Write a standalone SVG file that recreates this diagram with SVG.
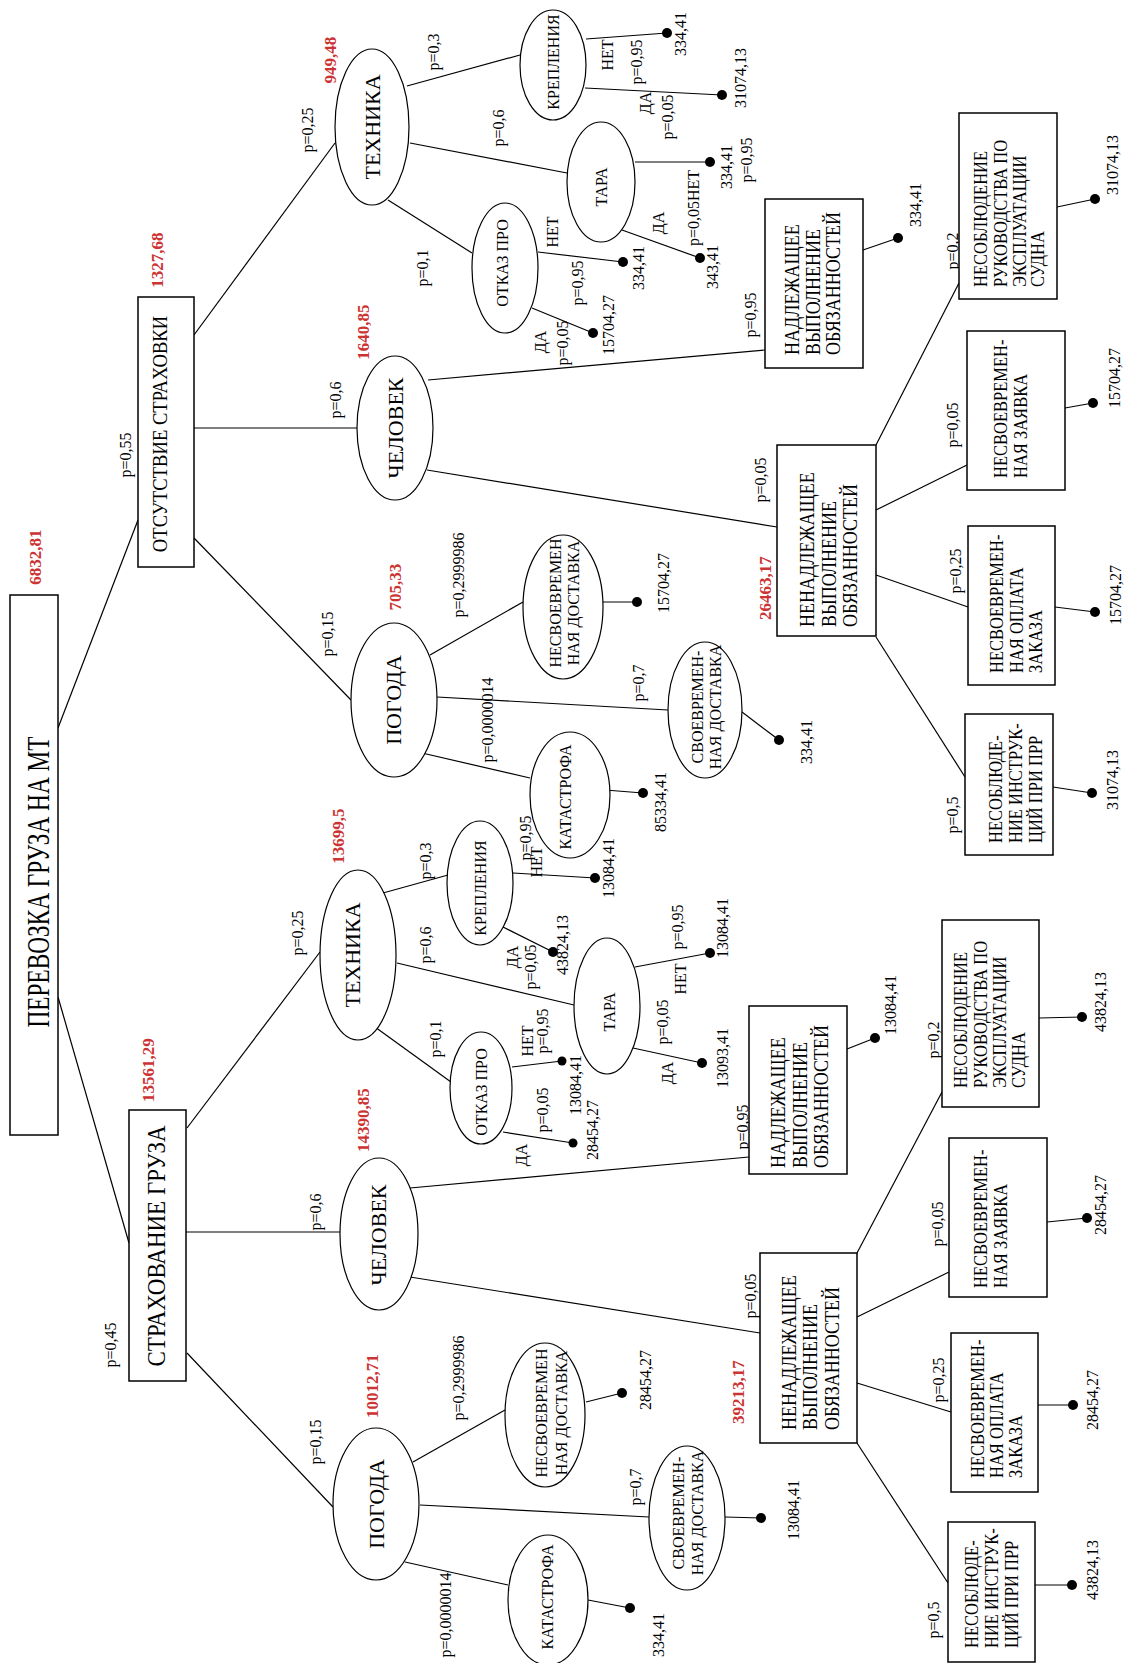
<svg xmlns="http://www.w3.org/2000/svg" width="1125" height="1663" viewBox="0 0 1125 1663">
<style>
.t{font-family:"Liberation Serif","Times New Roman",serif;font-size:16px;text-anchor:middle;dominant-baseline:central;fill:#000}
.r{fill:#cc3333;font-weight:bold;font-size:17px}
.big{font-size:22px}
.b{font-size:18px;text-anchor:start}
.b2{font-size:16.5px;text-anchor:start}
#connectors line{stroke:#000;stroke-width:1.2;fill:none}
rect{fill:#fff;stroke:#000;stroke-width:1.5}
ellipse{fill:#fff;stroke:#000;stroke-width:1.2}
.dot{fill:#000}
</style>
<rect x="0" y="0" width="1125" height="1663" style="fill:#fff;stroke:none"/>
<g id="connectors">
<line x1="58" y1="728" x2="138" y2="520"/>
<line x1="58" y1="997" x2="129" y2="1243"/>
<line x1="194" y1="335" x2="335" y2="143"/>
<line x1="194" y1="428" x2="357" y2="428"/>
<line x1="194" y1="538" x2="351" y2="700"/>
<line x1="407" y1="86" x2="520" y2="55"/>
<line x1="410" y1="143" x2="567" y2="173"/>
<line x1="388" y1="200" x2="472" y2="253"/>
<line x1="586" y1="39" x2="667" y2="33"/>
<line x1="585" y1="88" x2="722" y2="95"/>
<line x1="635" y1="162" x2="710" y2="162"/>
<line x1="622" y1="230" x2="700" y2="258"/>
<line x1="538" y1="252" x2="623" y2="262"/>
<line x1="532" y1="308" x2="593" y2="333"/>
<line x1="428" y1="380" x2="765" y2="350"/>
<line x1="427" y1="470" x2="777" y2="527"/>
<line x1="863" y1="250" x2="898" y2="238"/>
<line x1="876" y1="445" x2="959" y2="283"/>
<line x1="876" y1="510" x2="967" y2="465"/>
<line x1="876" y1="575" x2="968" y2="607"/>
<line x1="876" y1="637" x2="965" y2="777"/>
<line x1="1057" y1="207" x2="1095" y2="199"/>
<line x1="1065" y1="408" x2="1093" y2="403"/>
<line x1="1055" y1="607" x2="1095" y2="612"/>
<line x1="1053" y1="787" x2="1092" y2="793"/>
<line x1="430" y1="655" x2="523" y2="602"/>
<line x1="437" y1="697" x2="668" y2="710"/>
<line x1="422" y1="753" x2="530" y2="778"/>
<line x1="603" y1="602" x2="637" y2="602"/>
<line x1="742" y1="712" x2="779" y2="740"/>
<line x1="605" y1="790" x2="643" y2="793"/>
<line x1="187" y1="1128" x2="320" y2="952"/>
<line x1="186" y1="1232" x2="340" y2="1232"/>
<line x1="187" y1="1353" x2="333" y2="1507"/>
<line x1="383" y1="893" x2="448" y2="875"/>
<line x1="397" y1="963" x2="574" y2="1005"/>
<line x1="375" y1="1027" x2="451" y2="1082"/>
<line x1="513" y1="873" x2="595" y2="878"/>
<line x1="503" y1="927" x2="553" y2="952"/>
<line x1="635" y1="967" x2="710" y2="953"/>
<line x1="633" y1="1048" x2="702" y2="1063"/>
<line x1="512" y1="1067" x2="562" y2="1061"/>
<line x1="503" y1="1132" x2="573" y2="1143"/>
<line x1="410" y1="1188" x2="749" y2="1157"/>
<line x1="410" y1="1277" x2="760" y2="1333"/>
<line x1="847" y1="1049" x2="875" y2="1038"/>
<line x1="857" y1="1253" x2="942" y2="1092"/>
<line x1="857" y1="1317" x2="949" y2="1272"/>
<line x1="857" y1="1383" x2="951" y2="1412"/>
<line x1="857" y1="1443" x2="948" y2="1583"/>
<line x1="1039" y1="1018" x2="1082" y2="1017"/>
<line x1="1047" y1="1222" x2="1087" y2="1218"/>
<line x1="1038" y1="1405" x2="1073" y2="1405"/>
<line x1="1035" y1="1585" x2="1072" y2="1585"/>
<line x1="413" y1="1462" x2="505" y2="1410"/>
<line x1="420" y1="1505" x2="649" y2="1517"/>
<line x1="405" y1="1562" x2="508" y2="1585"/>
<line x1="586" y1="1402" x2="622" y2="1393"/>
<line x1="725" y1="1517" x2="761" y2="1518"/>
<line x1="588" y1="1600" x2="630" y2="1608"/>
</g>
<g id="edge-labels">
<text class="t" transform="translate(125,455) rotate(-90)">p=0,55</text>
<text class="t" transform="translate(110,1345) rotate(-90)">p=0,45</text>
<text class="t" transform="translate(307,130) rotate(-90)">p=0,25</text>
<text class="t" transform="translate(335,400) rotate(-90)">p=0,6</text>
<text class="t" transform="translate(327,634) rotate(-90)">p=0,15</text>
<text class="t" transform="translate(433,52) rotate(-90)">p=0,3</text>
<text class="t" transform="translate(498,128) rotate(-90)">p=0,6</text>
<text class="t" transform="translate(422,268) rotate(-90)">p=0,1</text>
<text class="t" transform="translate(607,55) rotate(-90)">НЕТ</text>
<text class="t" transform="translate(636,62) rotate(-90)">p=0,95</text>
<text class="t" transform="translate(680,34) rotate(-90)">334,41</text>
<text class="t" transform="translate(645,103) rotate(-90)">ДА</text>
<text class="t" transform="translate(667,117) rotate(-90)">p=0,05</text>
<text class="t" transform="translate(740,78) rotate(-90)">31074,13</text>
<text class="t" transform="translate(726,167) rotate(-90)">334,41</text>
<text class="t" transform="translate(746,160) rotate(-90)">p=0,95</text>
<text class="t" transform="translate(693,208) rotate(-90)">p=0,05НЕТ</text>
<text class="t" transform="translate(658,223) rotate(-90)">ДА</text>
<text class="t" transform="translate(712,267) rotate(-90)">343,41</text>
<text class="t" transform="translate(552,232) rotate(-90)">НЕТ</text>
<text class="t" transform="translate(577,283) rotate(-90)">p=0,95</text>
<text class="t" transform="translate(638,268) rotate(-90)">334,41</text>
<text class="t" transform="translate(540,342) rotate(-90)">ДА</text>
<text class="t" transform="translate(562,343) rotate(-90)">p=0,05</text>
<text class="t" transform="translate(608,325) rotate(-90)">15704,27</text>
<text class="t" transform="translate(750,315) rotate(-90)">p=0,95</text>
<text class="t" transform="translate(760,480) rotate(-90)">p=0,05</text>
<text class="t" transform="translate(915,205) rotate(-90)">334,41</text>
<text class="t" transform="translate(952,251) rotate(-90)">p=0,2</text>
<text class="t" transform="translate(1112,165) rotate(-90)">31074,13</text>
<text class="t" transform="translate(952,425) rotate(-90)">p=0,05</text>
<text class="t" transform="translate(1114,378) rotate(-90)">15704,27</text>
<text class="t" transform="translate(955,571) rotate(-90)">p=0,25</text>
<text class="t" transform="translate(1115,595) rotate(-90)">15704,27</text>
<text class="t" transform="translate(952,815) rotate(-90)">p=0,5</text>
<text class="t" transform="translate(1112,780) rotate(-90)">31074,13</text>
<text class="t" transform="translate(458,575) rotate(-90)">p=0,2999986</text>
<text class="t" transform="translate(663,583) rotate(-90)">15704,27</text>
<text class="t" transform="translate(487,720) rotate(-90)">p=0,0000014</text>
<text class="t" transform="translate(638,683) rotate(-90)">p=0,7</text>
<text class="t" transform="translate(806,742) rotate(-90)">334,41</text>
<text class="t" transform="translate(660,802) rotate(-90)">85334,41</text>
<text class="t" transform="translate(297,933) rotate(-90)">p=0,25</text>
<text class="t" transform="translate(315,1212) rotate(-90)">p=0,6</text>
<text class="t" transform="translate(315,1442) rotate(-90)">p=0,15</text>
<text class="t" transform="translate(425,861) rotate(-90)">p=0,3</text>
<text class="t" transform="translate(525,838) rotate(-90)">p=0,95</text>
<text class="t" transform="translate(536,862) rotate(-90)">НЕТ</text>
<text class="t" transform="translate(608,868) rotate(-90)">13084,41</text>
<text class="t" transform="translate(512,957) rotate(-90)">ДА</text>
<text class="t" transform="translate(530,967) rotate(-90)">p=0,05</text>
<text class="t" transform="translate(562,945) rotate(-90)">43824,13</text>
<text class="t" transform="translate(425,945) rotate(-90)">p=0,6</text>
<text class="t" transform="translate(677,927) rotate(-90)">p=0,95</text>
<text class="t" transform="translate(680,979) rotate(-90)">НЕТ</text>
<text class="t" transform="translate(722,928) rotate(-90)">13084,41</text>
<text class="t" transform="translate(667,1073) rotate(-90)">ДА</text>
<text class="t" transform="translate(662,1022) rotate(-90)">p=0,05</text>
<text class="t" transform="translate(722,1058) rotate(-90)">13093,41</text>
<text class="t" transform="translate(435,1039) rotate(-90)">p=0,1</text>
<text class="t" transform="translate(527,1041) rotate(-90)">НЕТ</text>
<text class="t" transform="translate(542,1031) rotate(-90)">p=0,95</text>
<text class="t" transform="translate(575,1085) rotate(-90)">13084,41</text>
<text class="t" transform="translate(521,1155) rotate(-90)">ДА</text>
<text class="t" transform="translate(542,1110) rotate(-90)">p=0,05</text>
<text class="t" transform="translate(592,1130) rotate(-90)">28454,27</text>
<text class="t" transform="translate(742,1127) rotate(-90)">p=0,95</text>
<text class="t" transform="translate(750,1296) rotate(-90)">p=0,05</text>
<text class="t" transform="translate(890,1005) rotate(-90)">13084,41</text>
<text class="t" transform="translate(933,1040) rotate(-90)">p=0,2</text>
<text class="t" transform="translate(1100,1002) rotate(-90)">43824,13</text>
<text class="t" transform="translate(937,1224) rotate(-90)">p=0,05</text>
<text class="t" transform="translate(1100,1205) rotate(-90)">28454,27</text>
<text class="t" transform="translate(938,1380) rotate(-90)">p=0,25</text>
<text class="t" transform="translate(1092,1400) rotate(-90)">28454,27</text>
<text class="t" transform="translate(933,1620) rotate(-90)">p=0,5</text>
<text class="t" transform="translate(1092,1570) rotate(-90)">43824,13</text>
<text class="t" transform="translate(458,1378) rotate(-90)">p=0,2999986</text>
<text class="t" transform="translate(645,1380) rotate(-90)">28454,27</text>
<text class="t" transform="translate(635,1487) rotate(-90)">p=0,7</text>
<text class="t" transform="translate(793,1510) rotate(-90)">13084,41</text>
<text class="t" transform="translate(445,1615) rotate(-90)">p=0,0000014</text>
<text class="t" transform="translate(658,1635) rotate(-90)">334,41</text>
</g>
<g id="values">
<text class="t r" transform="translate(35,557) rotate(-90)">6832,81</text>
<text class="t r" transform="translate(157,260) rotate(-90)">1327,68</text>
<text class="t r" transform="translate(148,1070) rotate(-90)">13561,29</text>
<text class="t r" transform="translate(330,60) rotate(-90)">949,48</text>
<text class="t r" transform="translate(363,332) rotate(-90)">1640,85</text>
<text class="t r" transform="translate(395,587) rotate(-90)">705,33</text>
<text class="t r" transform="translate(765,588) rotate(-90)">26463,17</text>
<text class="t r" transform="translate(338,836) rotate(-90)">13699,5</text>
<text class="t r" transform="translate(363,1120) rotate(-90)">14390,85</text>
<text class="t r" transform="translate(372,1386) rotate(-90)">10012,71</text>
<text class="t r" transform="translate(738,1392) rotate(-90)">39213,17</text>
</g>
<g id="dots">
<circle class="dot" cx="667" cy="33" r="5"/><circle class="dot" cx="722" cy="95" r="5"/>
<circle class="dot" cx="710" cy="162" r="5"/><circle class="dot" cx="700" cy="258" r="5"/>
<circle class="dot" cx="623" cy="262" r="5"/><circle class="dot" cx="593" cy="333" r="5"/>
<circle class="dot" cx="898" cy="238" r="5"/><circle class="dot" cx="1095" cy="199" r="5"/>
<circle class="dot" cx="1093" cy="403" r="5"/><circle class="dot" cx="1095" cy="612" r="5"/>
<circle class="dot" cx="1092" cy="793" r="5"/><circle class="dot" cx="637" cy="602" r="5"/>
<circle class="dot" cx="779" cy="740" r="5"/><circle class="dot" cx="643" cy="793" r="5"/>
<circle class="dot" cx="595" cy="878" r="5"/><circle class="dot" cx="553" cy="952" r="5"/>
<circle class="dot" cx="710" cy="953" r="5"/><circle class="dot" cx="702" cy="1063" r="5"/>
<circle class="dot" cx="562" cy="1061" r="4.5"/><circle class="dot" cx="573" cy="1143" r="4.5"/>
<circle class="dot" cx="875" cy="1038" r="5"/><circle class="dot" cx="1082" cy="1017" r="5"/>
<circle class="dot" cx="1087" cy="1218" r="5"/><circle class="dot" cx="1073" cy="1405" r="5"/>
<circle class="dot" cx="1072" cy="1585" r="5"/><circle class="dot" cx="622" cy="1393" r="5"/>
<circle class="dot" cx="761" cy="1518" r="5"/><circle class="dot" cx="630" cy="1608" r="5"/>
</g>
<g id="root"><rect x="10" y="595" width="48" height="540"/><text class="t" style="font-size:24px" transform="translate(38,882) rotate(-90) scale(0.97,1.3)">ПЕРЕВОЗКА ГРУЗА НА МТ</text></g>
<g id="n-otsut"><rect x="138" y="297" width="56" height="270"/><text class="t" style="font-size:18.6px" transform="translate(160,434) rotate(-90) scale(1,1.15)">ОТСУТСТВИЕ СТРАХОВКИ</text></g>
<g id="n-strah"><rect x="129" y="1110" width="57" height="271"/><text class="t" style="font-size:23px" transform="translate(157,1246) rotate(-90) scale(1,1.05)">СТРАХОВАНИЕ ГРУЗА</text></g>
<g id="n1-tech"><ellipse cx="372" cy="127" rx="37" ry="78"/><text class="t big" transform="translate(372,127) rotate(-90)">ТЕХНИКА</text></g>
<g id="n1-chel"><ellipse cx="395" cy="428" rx="38" ry="72"/><text class="t big" transform="translate(395,428) rotate(-90)">ЧЕЛОВЕК</text></g>
<g id="n1-pog"><ellipse cx="394" cy="700" rx="43" ry="77"/><text class="t big" transform="translate(393,700) rotate(-90)">ПОГОДА</text></g>
<g id="n1-krep"><ellipse cx="553" cy="65" rx="33" ry="55"/><text class="t" transform="translate(553,62) rotate(-90)">КРЕПЛЕНИЯ</text></g>
<g id="n1-tara"><ellipse cx="601" cy="182" rx="34" ry="60"/><text class="t" transform="translate(601,187) rotate(-90)">ТАРА</text></g>
<g id="n1-otkaz"><ellipse cx="505" cy="268" rx="33" ry="65"/><text class="t" transform="translate(502,263) rotate(-90)">ОТКАЗ ПРО</text></g>
<g id="n1-nesv"><ellipse cx="563" cy="607" rx="40" ry="72"/><text class="t" transform="translate(555,603) rotate(-90)">НЕСВОЕВРЕМЕН</text><text class="t" transform="translate(573,603) rotate(-90)">НАЯ ДОСТАВКА</text></g>
<g id="n1-svoe"><ellipse cx="705" cy="710" rx="37" ry="68"/><text class="t" transform="translate(697,707) rotate(-90)">СВОЕВРЕМЕН-</text><text class="t" transform="translate(715,707) rotate(-90)">НАЯ ДОСТАВКА</text></g>
<g id="n1-kat"><ellipse cx="570" cy="795" rx="40" ry="63"/><text class="t" transform="translate(565,797) rotate(-90)">КАТАСТРОФА</text></g>
<g id="n1-nadl"><rect x="765" y="199" width="98" height="169"/>
<text class="t b" transform="translate(791,355) rotate(-90) scale(1,1.2)">НАДЛЕЖАЩЕЕ</text>
<text class="t b" transform="translate(812,355) rotate(-90) scale(1,1.2)">ВЫПОЛНЕНИЕ</text>
<text class="t b" transform="translate(832,355) rotate(-90) scale(1,1.2)">ОБЯЗАННОСТЕЙ</text></g>
<g id="n1-nenadl"><rect x="777" y="445" width="99" height="191"/>
<text class="t b" transform="translate(806,627) rotate(-90) scale(1,1.2)">НЕНАДЛЕЖАЩЕЕ</text>
<text class="t b" transform="translate(828,627) rotate(-90) scale(1,1.2)">ВЫПОЛНЕНИЕ</text>
<text class="t b" transform="translate(849,627) rotate(-90) scale(1,1.2)">ОБЯЗАННОСТЕЙ</text></g>
<g id="n1-ruk"><rect x="959" y="113" width="98" height="186"/>
<text class="t b2" transform="translate(980,287) rotate(-90) scale(1,1.2)">НЕСОБЛЮДЕНИЕ</text>
<text class="t b2" transform="translate(1000,287) rotate(-90) scale(1,1.2)">РУКОВОДСТВА ПО</text>
<text class="t b2" transform="translate(1019,287) rotate(-90) scale(1,1.2)">ЭКСПЛУАТАЦИИ</text>
<text class="t b2" transform="translate(1037,287) rotate(-90) scale(1,1.2)">СУДНА</text></g>
<g id="n1-zayav"><rect x="967" y="331" width="98" height="159"/>
<text class="t b2" transform="translate(1000,478) rotate(-90) scale(1,1.2)">НЕСВОЕВРЕМЕН-</text>
<text class="t b2" transform="translate(1020,478) rotate(-90) scale(1,1.2)">НАЯ ЗАЯВКА</text></g>
<g id="n1-opl"><rect x="968" y="526" width="87" height="159"/>
<text class="t b2" transform="translate(996,673) rotate(-90) scale(1,1.2)">НЕСВОЕВРЕМЕН-</text>
<text class="t b2" transform="translate(1016,673) rotate(-90) scale(1,1.2)">НАЯ ОПЛАТА</text>
<text class="t b2" transform="translate(1035,673) rotate(-90) scale(1,1.2)">ЗАКАЗА</text></g>
<g id="n1-instr"><rect x="965" y="714" width="88" height="141"/>
<text class="t b2" transform="translate(995,843) rotate(-90) scale(1,1.2)">НЕСОБЛЮДЕ-</text>
<text class="t b2" transform="translate(1015,843) rotate(-90) scale(1,1.2)">НИЕ ИНСТРУК-</text>
<text class="t b2" transform="translate(1035,843) rotate(-90) scale(1,1.2)">ЦИЙ ПРИ ПРР</text></g>
<g id="n2-tech"><ellipse cx="358" cy="955" rx="38" ry="85"/><text class="t big" transform="translate(352,955) rotate(-90)">ТЕХНИКА</text></g>
<g id="n2-chel"><ellipse cx="379" cy="1234" rx="39" ry="76"/><text class="t big" transform="translate(378,1235) rotate(-90)">ЧЕЛОВЕК</text></g>
<g id="n2-pog"><ellipse cx="376" cy="1504" rx="43" ry="76"/><text class="t big" transform="translate(376,1504) rotate(-90)">ПОГОДА</text></g>
<g id="n2-krep"><ellipse cx="480" cy="883" rx="33" ry="62"/><text class="t" transform="translate(480,888) rotate(-90)">КРЕПЛЕНИЯ</text></g>
<g id="n2-tara"><ellipse cx="607" cy="1006" rx="33" ry="68"/><text class="t" transform="translate(609,1012) rotate(-90)">ТАРА</text></g>
<g id="n2-otkaz"><ellipse cx="481" cy="1088" rx="31" ry="56"/><text class="t" transform="translate(481,1092) rotate(-90)">ОТКАЗ ПРО</text></g>
<g id="n2-nesv"><ellipse cx="545" cy="1415" rx="40" ry="72"/><text class="t" transform="translate(541,1413) rotate(-90)">НЕСВОЕВРЕМЕН</text><text class="t" transform="translate(561,1413) rotate(-90)">НАЯ ДОСТАВКА</text></g>
<g id="n2-svoe"><ellipse cx="687" cy="1518" rx="38" ry="72"/><text class="t" transform="translate(678,1513) rotate(-90)">СВОЕВРЕМЕН-</text><text class="t" transform="translate(697,1513) rotate(-90)">НАЯ ДОСТАВКА</text></g>
<g id="n2-kat"><ellipse cx="548" cy="1600" rx="40" ry="65"/><text class="t" transform="translate(547,1597) rotate(-90)">КАТАСТРОФА</text></g>
<g id="n2-nadl"><rect x="749" y="1006" width="98" height="168"/>
<text class="t b" transform="translate(777,1168) rotate(-90) scale(1,1.2)">НАДЛЕЖАЩЕЕ</text>
<text class="t b" transform="translate(799,1168) rotate(-90) scale(1,1.2)">ВЫПОЛНЕНИЕ</text>
<text class="t b" transform="translate(820,1168) rotate(-90) scale(1,1.2)">ОБЯЗАННОСТЕЙ</text></g>
<g id="n2-nenadl"><rect x="760" y="1253" width="97" height="190"/>
<text class="t b" transform="translate(788,1430) rotate(-90) scale(1,1.2)">НЕНАДЛЕЖАЩЕЕ</text>
<text class="t b" transform="translate(809,1430) rotate(-90) scale(1,1.2)">ВЫПОЛНЕНИЕ</text>
<text class="t b" transform="translate(831,1430) rotate(-90) scale(1,1.2)">ОБЯЗАННОСТЕЙ</text></g>
<g id="n2-ruk"><rect x="942" y="920" width="97" height="187"/>
<text class="t b2" transform="translate(960,1088) rotate(-90) scale(1,1.2)">НЕСОБЛЮДЕНИЕ</text>
<text class="t b2" transform="translate(980,1088) rotate(-90) scale(1,1.2)">РУКОВОДСТВА ПО</text>
<text class="t b2" transform="translate(999,1088) rotate(-90) scale(1,1.2)">ЭКСПЛУАТАЦИИ</text>
<text class="t b2" transform="translate(1018,1088) rotate(-90) scale(1,1.2)">СУДНА</text></g>
<g id="n2-zayav"><rect x="949" y="1138" width="98" height="159"/>
<text class="t b2" transform="translate(980,1288) rotate(-90) scale(1,1.2)">НЕСВОЕВРЕМЕН-</text>
<text class="t b2" transform="translate(1000,1288) rotate(-90) scale(1,1.2)">НАЯ ЗАЯВКА</text></g>
<g id="n2-opl"><rect x="951" y="1333" width="87" height="159"/>
<text class="t b2" transform="translate(977,1478) rotate(-90) scale(1,1.2)">НЕСВОЕВРЕМЕН-</text>
<text class="t b2" transform="translate(996,1478) rotate(-90) scale(1,1.2)">НАЯ ОПЛАТА</text>
<text class="t b2" transform="translate(1015,1478) rotate(-90) scale(1,1.2)">ЗАКАЗА</text></g>
<g id="n2-instr"><rect x="948" y="1522" width="87" height="140"/>
<text class="t b2" transform="translate(971,1648) rotate(-90) scale(1,1.2)">НЕСОБЛЮДЕ-</text>
<text class="t b2" transform="translate(991,1648) rotate(-90) scale(1,1.2)">НИЕ ИНСТРУК-</text>
<text class="t b2" transform="translate(1011,1648) rotate(-90) scale(1,1.2)">ЦИЙ ПРИ ПРР</text></g>
</svg>
